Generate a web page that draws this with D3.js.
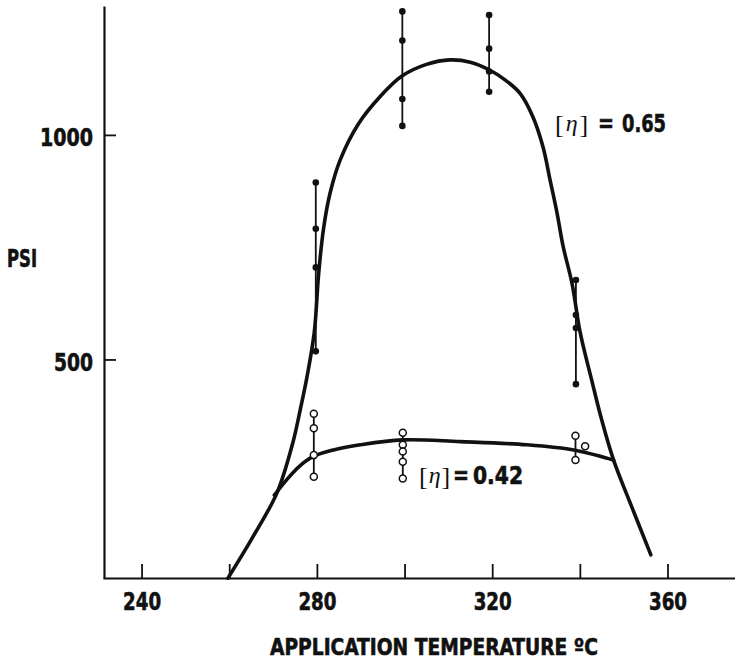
<!DOCTYPE html>
<html>
<head>
<meta charset="utf-8">
<script src="https://cdn.jsdelivr.net/npm/d3@7"></script>
<style>
  html, body { margin: 0; padding: 0; background: #fff; }
  svg { display: block; }
  .lab { font-family: "Liberation Sans Narrow", "DejaVu Sans Condensed", "Arial Narrow", sans-serif; font-weight: bold; fill: #111; stroke: #111; stroke-width: 0.6px; }
  .ser { font-family: "Liberation Serif", "DejaVu Serif", serif; fill: #111; }
</style>
</head>
<body>
<svg id="chart" width="735" height="661"></svg>
<script>
// Temperature ticks (°C) and the labelled subset
const xTicks = [240, 260, 280, 300, 320, 340, 360];
const xTickLabels = [240, 280, 320, 360];
// PSI ticks
const yTicks = [500, 1000];

// Measured bond strength, [η] = 0.65 (filled dots): temperature, PSI readings
const highTemps = [279.75, 299.5, 319.3, 339.1];
const highValues = [
  [894, 791, 705, 518],
  [1275, 1210, 1080, 1020],
  [1267, 1192, 1141, 1096],
  [677, 599, 570, 445]
];

// Measured bond strength, [η] = 0.42 (open circles)
const lowTemps = [279.3, 299.6, 339];
const lowValues = [
  [379, 347, 287, 239],
  [337, 310, 295, 272, 235],
  [330, 276]
];
// single reading plotted just beside the 340 °C group
const lowExtra = [[341.2, 307]];

// Fitted curves (temperature, PSI)
const highCurve = [
  [259.7, 13], [265.4, 105], [270.9, 203], [274.5, 314], [276.2, 388],
  [277.7, 459], [279.4, 560], [280.4, 690], [281.5, 790], [283.0, 870],
  [285.3, 944], [289.5, 1025], [294.4, 1085], [299.4, 1131], [305, 1157],
  [310.4, 1167], [315, 1162], [319.3, 1145], [323, 1122], [326.4, 1092],
  [329.3, 1040], [331.6, 973], [333.2, 900], [334.8, 826], [336.2, 751],
  [338.2, 670], [340.1, 559], [342.7, 454], [345.0, 365], [347.7, 276],
  [352, 168], [356.2, 65]
];
const lowCurve = [
  [270.3, 198], [273.1, 232], [276, 262], [279.2, 284], [284, 299],
  [289.9, 310], [299.6, 321], [312.7, 317], [327.9, 310], [338.9, 298],
  [347.7, 276]
];

const svg = d3.select("#chart");

const x = d3.scaleLinear().domain([231.2, 375.4]).range([103, 735]);
const y = d3.scaleLinear().domain([13.4, 1287]).range([578, 6]);

const ink = "#111";

// Axes
const xAxis = d3.axisBottom(x)
  .tickValues(xTicks)
  .tickSizeInner(-14)
  .tickSizeOuter(0)
  .tickPadding(0)
  .tickFormat(d => xTickLabels.includes(d) ? String(d) : "");
const gx = svg.append("g").attr("transform", `translate(0,${y.range()[0]})`).call(xAxis);
gx.select(".domain").attr("stroke", ink).attr("stroke-width", 2.2);
gx.selectAll(".tick line").attr("stroke", ink).attr("stroke-width", 1.8);
gx.selectAll(".tick text")
  .attr("class", "lab")
  .attr("font-size", 25)
  .attr("y", 32).attr("dy", 0)
  .attr("textLength", 38).attr("lengthAdjust", "spacingAndGlyphs");

const yAxis = d3.axisLeft(y)
  .tickValues(yTicks)
  .tickSizeInner(-12)
  .tickSizeOuter(0)
  .tickPadding(0)
  .tickFormat(d => String(d));
const gy = svg.append("g").attr("transform", `translate(${x.range()[0] + 1},0)`).call(yAxis);
gy.select(".domain").attr("stroke", ink).attr("stroke-width", 2.2);
gy.selectAll(".tick line").attr("stroke", ink).attr("stroke-width", 1.8);
gy.selectAll(".tick text")
  .attr("class", "lab")
  .attr("font-size", 25)
  .attr("text-anchor", "end")
  .attr("x", -11).attr("dy", 0).attr("y", 11)
  .attr("textLength", d => d === 1000 ? 53 : 39)
  .attr("lengthAdjust", "spacingAndGlyphs");

// Axis titles
svg.append("text").attr("class", "lab").attr("font-size", 24)
  .attr("x", 7).attr("y", 267)
  .attr("textLength", 30).attr("lengthAdjust", "spacingAndGlyphs")
  .text("PSI");
svg.append("text").attr("class", "lab").attr("font-size", 23)
  .attr("x", 270).attr("y", 655)
  .attr("textLength", 328).attr("lengthAdjust", "spacingAndGlyphs")
  .text("APPLICATION TEMPERATURE ºC");

// Fitted curves
const line = d3.line()
  .x(d => x(d[0])).y(d => y(d[1]))
  .curve(d3.curveCatmullRom.alpha(0.5));

svg.append("path").datum(highCurve)
  .attr("d", line).attr("fill", "none")
  .attr("stroke", ink).attr("stroke-width", 3.6).attr("stroke-linecap", "round");
svg.append("path").datum(lowCurve)
  .attr("d", line).attr("fill", "none")
  .attr("stroke", ink).attr("stroke-width", 3.6).attr("stroke-linecap", "round");

// [η] = 0.65 readings: range bars and filled dots
highTemps.forEach((t, i) => {
  const vals = highValues[i];
  svg.append("line")
    .attr("x1", x(t)).attr("x2", x(t))
    .attr("y1", y(d3.max(vals))).attr("y2", y(d3.min(vals)))
    .attr("stroke", ink).attr("stroke-width", 1.8);
  svg.selectAll(null).data(vals).join("circle")
    .attr("cx", x(t)).attr("cy", d => y(d)).attr("r", 3.3)
    .attr("fill", ink);
});

// [η] = 0.42 readings: range bars and open circles
lowTemps.forEach((t, i) => {
  const vals = lowValues[i];
  svg.append("line")
    .attr("x1", x(t)).attr("x2", x(t))
    .attr("y1", y(d3.max(vals))).attr("y2", y(d3.min(vals)))
    .attr("stroke", ink).attr("stroke-width", 1.8);
  svg.selectAll(null).data(vals).join("circle")
    .attr("cx", x(t)).attr("cy", d => y(d)).attr("r", 3.5)
    .attr("fill", "#fff").attr("stroke", ink).attr("stroke-width", 1.5);
});
svg.selectAll(null).data(lowExtra).join("circle")
  .attr("cx", d => x(d[0])).attr("cy", d => y(d[1])).attr("r", 3.5)
  .attr("fill", "#fff").attr("stroke", ink).attr("stroke-width", 1.5);

// Curve labels: "[η] = value"
function etaLabel(x0, base, o) {
  const t = svg.append("text").attr("class", "ser").attr("x", x0).attr("y", base + 1);
  t.append("tspan").attr("font-size", 26).text("[");
  t.append("tspan").attr("font-size", 24).attr("font-style", "italic")
    .attr("dx", o.gap).attr("dy", -2).text("η");
  t.append("tspan").attr("font-size", 26).attr("dx", o.gap).attr("dy", 2).text("]");
  svg.append("text").attr("class", "lab").attr("font-size", 25)
    .attr("x", x0 + o.eq).attr("y", base)
    .attr("textLength", 16).attr("lengthAdjust", "spacingAndGlyphs").text("=");
  svg.append("text").attr("class", "lab").attr("font-size", 25)
    .attr("x", x0 + o.num).attr("y", base)
    .attr("textLength", o.numW).attr("lengthAdjust", "spacingAndGlyphs").text(o.text);
}
etaLabel(555, 132, { gap: 2, eq: 43, num: 67, numW: 44, text: "0.65" });
etaLabel(419, 484, { gap: 1, eq: 34, num: 54, numW: 50, text: "0.42" });
</script>
</body>
</html>
